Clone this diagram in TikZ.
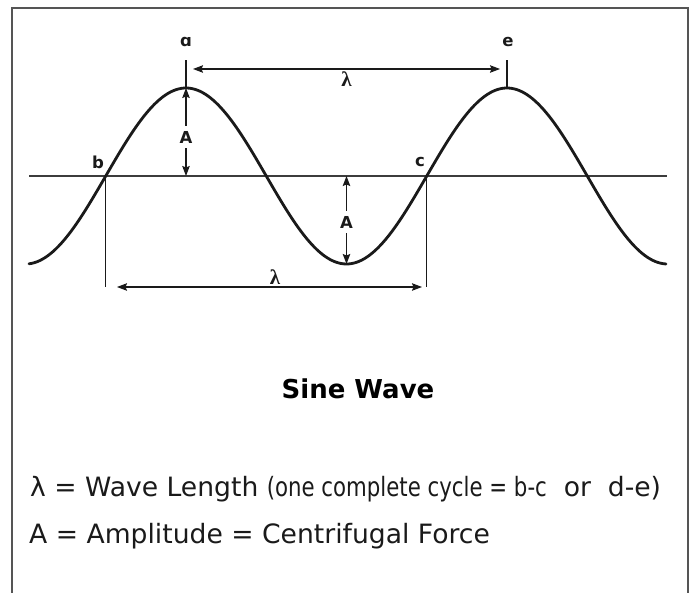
\documentclass[tikz,border=0pt]{standalone}
\usepackage{fontspec}
\setmainfont{DejaVu Sans}
\newfontfamily\lamfont{Liberation Serif}
\newfontfamily\narrowfont[FakeStretch=0.8]{DejaVu Sans}
\usepackage{xcolor}
\usepackage{tikz}
\usetikzlibrary{positioning, arrows.meta}

\definecolor{marco}{HTML}{555555}
\definecolor{trazo}{HTML}{1A1A1A}
\tikzset{
  punta/.tip={Stealth[length=10pt,width=7.5pt,inset=1.5pt]},
  flecha/.style={-punta, line width=1.1pt, trazo},
  cota/.style={punta-punta, line width=1.1pt, trazo},
  fina/.style={line width=1.1pt, trazo},
  letra/.style={font=\fontsize{16.5}{18}\selectfont\bfseries, text=trazo, inner sep=0pt},
  amp/.style={letra, inner sep=5pt},
  lam/.style={font=\fontsize{21}{22}\lamfont\bfseries, text=trazo, inner sep=0pt},
  titulo/.style={font=\fontsize{26}{28}\selectfont\bfseries, text=black, inner sep=0pt},
  leyenda/.style={font=\fontsize{26.6}{30}\selectfont, text=trazo, inner sep=0pt}
}

\begin{document}
\begin{tikzpicture}[x=1pt, y=-1pt]
			\useasboundingbox (0,0) rectangle (696,593);
			% Marco
			\draw[marco, line width=1.5pt] (12,593) -- (12,8) -- (688,8) -- (688,593);
			
			% Eje
			\coordinate (ejeI) at (29,176);
			\coordinate (ejeD) at (667,176);
			\draw[trazo!85, line width=1.2pt] (ejeI) -- (ejeD);
			
			% Onda
			\draw[trazo, line width=2.8pt, line cap=round] plot[domain=29:666, samples=240, smooth]
				(\x, {176-88*cos((\x-186)/321*360)});
			
			% Puntos
			\coordinate (a) at (186,88);
			\coordinate (e) at (507,88);
			\coordinate (b) at (105.75,176);
			\coordinate (c) at (426.75,176);
			\coordinate (valle) at (346.5,264);
			\coordinate (aT) at (186,60);
			\coordinate (eT) at (507,60);
			\coordinate (bB) at (105.75,287);
			\coordinate (cB) at (426.75,287);
			
			% Marcas
			\draw[fina] (a) -- (aT);
			\draw[fina] (e) -- (eT);
			\draw[fina] (b) -- (bB);
			\draw[fina] (c) -- (cB);
			
			% Longitud de onda
			\coordinate (lamI) at (193,69);
			\coordinate (lamD) at (500,69);
			\draw[cota] (lamI) -- (lamD);
			\node[lam] (lam1) at (346.5,79) {λ};
			\coordinate (lamI2) at (117,287);
			\coordinate (lamD2) at (422,287);
			\draw[cota] (lamI2) -- (lamD2);
			\node[lam] (lam2) at (275,277) {λ};
			
			% Amplitud
			\node[amp] (A1) at (186,137) {A};
			\draw[flecha] (A1) -- (A1 |- a);
			\draw[flecha] (A1) -- (A1 |- ejeI);
			\node[amp] (A2) at (346.5,222) {A};
			\draw[flecha] (A2) -- (A2 |- ejeI);
			\draw[flecha] (A2) -- (valle);
			
			% Etiquetas
			\node[letra] (la) at (186,42) {ɑ};
			\node[letra] (le) at (508,42) {e};
			\node[letra] (lb) at (98,162) {b};
			\node[letra] (lc) at (420,162) {c};
			
			% Texto
			\node[titulo, anchor=base] (tit) at (358,399) {Sine Wave};
			\node[leyenda, anchor=base west] (ley1) at (30,496)
				{λ = Wave Length {\narrowfont(one complete cycle = b-c}\ \ or\ \ d-e)};
			\node[leyenda, anchor=base west] (ley2) at (29,543) {A = Amplitude = Centrifugal Force};
\end{tikzpicture}
\end{document}
